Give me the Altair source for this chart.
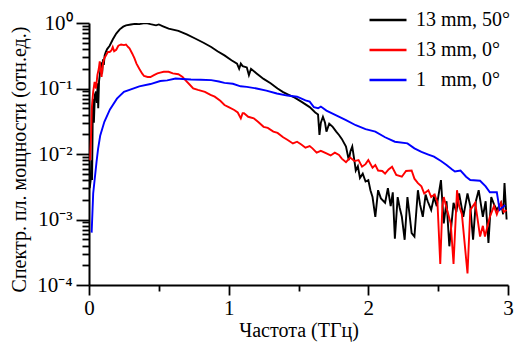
import altair as alt
import pandas as pd

# ---- data ----
black_f = [0.005, 0.012, 0.018, 0.022, 0.028, 0.035, 0.042, 0.05, 0.056, 0.062, 0.066, 0.072, 0.08, 0.088,
           0.094, 0.1, 0.106, 0.112, 0.12, 0.13, 0.148, 0.17, 0.195, 0.22, 0.245, 0.265, 0.3, 0.33, 0.36, 0.39,
           0.41, 0.44, 0.48, 0.5, 0.53, 0.57, 0.64, 0.7, 0.76, 0.82, 0.875, 0.92, 0.97, 1.02, 1.06, 1.075,
           1.087, 1.1, 1.13, 1.145, 1.16, 1.2, 1.25, 1.3, 1.35, 1.39, 1.43, 1.47, 1.52, 1.58, 1.62, 1.64,
           1.65, 1.66, 1.675, 1.69, 1.70, 1.72, 1.745, 1.77, 1.79, 1.81, 1.84, 1.86, 1.872, 1.885, 1.9, 1.91,
           1.925, 1.94, 1.96, 1.98, 2.0, 2.015, 2.03, 2.05, 2.07, 2.09, 2.12, 2.14, 2.16, 2.175, 2.19, 2.21,
           2.225, 2.24, 2.26, 2.28, 2.295, 2.31, 2.33, 2.355, 2.37, 2.39, 2.41, 2.425, 2.45, 2.47, 2.49, 2.52,
           2.54, 2.56, 2.58, 2.61, 2.63, 2.65, 2.68, 2.71, 2.73, 2.75, 2.77, 2.79, 2.82, 2.84, 2.86, 2.88,
           2.9, 2.92, 2.95, 2.965, 2.975, 2.99]
black_v = [0.003, 0.004, 0.008, 0.004, 0.07, 0.03, 0.08, 0.09, 0.06, 0.12, 0.05, 0.13, 0.18, 0.25,
           0.17, 0.28, 0.23, 0.32, 0.36, 0.4, 0.45, 0.56, 0.69, 0.8, 0.88, 0.92, 0.95, 0.97, 0.96, 0.99,
           1.0, 0.96, 0.92, 0.95, 0.89, 0.82, 0.76, 0.67, 0.58, 0.5, 0.43, 0.37, 0.32, 0.27, 0.24, 0.2,
           0.24, 0.22, 0.21, 0.16, 0.2, 0.17, 0.14, 0.12, 0.1, 0.088, 0.08, 0.073, 0.063, 0.052, 0.043, 0.04,
           0.0195, 0.03, 0.037, 0.03, 0.022, 0.029, 0.026, 0.022, 0.0195, 0.017, 0.013, 0.0081, 0.011, 0.013, 0.008, 0.0056,
           0.0065, 0.0043, 0.005, 0.0038, 0.004, 0.0028, 0.0022, 0.0011, 0.0028, 0.0021, 0.0018, 0.003, 0.0016, 0.0026, 0.00051, 0.0022,
           0.0015, 0.0011, 0.00049, 0.0022, 0.0012, 0.00062, 0.00055, 0.0028, 0.0017, 0.0011, 0.0024, 0.0019, 0.0014, 0.0022, 0.0016, 0.004,
           0.00087, 0.0019, 0.00039, 0.0018, 0.0013, 0.0025, 0.0011, 0.0025, 0.0016, 0.00049, 0.0019, 0.0028, 0.0011, 0.0019, 0.00044, 0.0022,
           0.0017, 0.0014, 0.0018, 0.0012, 0.0036, 0.001]

red_f = [0.008, 0.015, 0.02, 0.03, 0.04, 0.05, 0.06, 0.07, 0.077, 0.083, 0.09, 0.1, 0.11, 0.125, 0.135,
         0.148, 0.16, 0.17, 0.18, 0.195, 0.21, 0.23, 0.25, 0.265, 0.28, 0.29, 0.31, 0.325, 0.34, 0.36, 0.38,
         0.394, 0.42, 0.44, 0.465, 0.49, 0.51, 0.535, 0.57, 0.6, 0.64, 0.67, 0.69, 0.72, 0.746, 0.78, 0.83,
         0.87, 0.9, 0.94, 0.97, 1.0, 1.04, 1.065, 1.087, 1.1, 1.11, 1.14, 1.18, 1.21, 1.25, 1.28, 1.32, 1.35,
         1.39, 1.42, 1.46, 1.49, 1.52, 1.55, 1.58, 1.6, 1.63, 1.66, 1.70, 1.73, 1.76, 1.79, 1.81, 1.84, 1.87,
         1.9, 1.93, 1.955, 1.98, 2.0, 2.03, 2.05, 2.07, 2.1, 2.12, 2.145, 2.17, 2.2, 2.24, 2.27, 2.31, 2.33,
         2.355, 2.38, 2.4, 2.43, 2.45, 2.475, 2.495, 2.515, 2.53, 2.54, 2.56, 2.59, 2.61, 2.635, 2.65, 2.67,
         2.71, 2.73, 2.765, 2.78, 2.80, 2.82, 2.835, 2.87, 2.9, 2.92, 2.95, 2.97, 2.99]
red_v = [0.008, 0.02, 0.05, 0.09, 0.126, 0.1, 0.16, 0.2, 0.26, 0.2, 0.15, 0.24, 0.29, 0.33, 0.36,
         0.36, 0.38, 0.43, 0.37, 0.39, 0.45, 0.47, 0.46, 0.47, 0.43, 0.41, 0.34, 0.29, 0.24, 0.2, 0.17,
         0.155, 0.15, 0.15, 0.16, 0.17, 0.175, 0.18, 0.18, 0.17, 0.165, 0.15, 0.134, 0.115, 0.1, 0.095, 0.089,
         0.08, 0.075, 0.065, 0.056, 0.052, 0.047, 0.043, 0.035, 0.042, 0.042, 0.037, 0.035, 0.031, 0.026, 0.025, 0.022, 0.021,
         0.018, 0.0165, 0.0145, 0.0154, 0.014, 0.0125, 0.0132, 0.0122, 0.0105, 0.0112, 0.0102, 0.0095, 0.0105, 0.0097, 0.0085, 0.0075, 0.0088,
         0.0078, 0.0081, 0.0064, 0.007, 0.0081, 0.0062, 0.0068, 0.0056, 0.0055, 0.005, 0.0058, 0.0064, 0.0048, 0.0045, 0.0055, 0.0056, 0.0042,
         0.0036, 0.0032, 0.0025, 0.0028, 0.0022, 0.0024, 0.0018, 0.00021, 0.0016, 0.0022, 0.0015, 0.00087, 0.00021, 0.0028, 0.0016, 0.0012,
         0.00015, 0.0014, 0.0018, 0.0011, 0.00055, 0.0008, 0.00055, 0.0011, 0.0016, 0.0012, 0.0018, 0.0013, 0.0014]

blue_f = [0.019, 0.03, 0.054, 0.065, 0.08, 0.11, 0.15, 0.2, 0.25, 0.3, 0.36, 0.44, 0.51, 0.56, 0.62,
          0.67, 0.73, 0.8, 0.875, 0.93, 0.97, 1.03, 1.085, 1.13, 1.2, 1.27, 1.345, 1.42, 1.49, 1.55, 1.58,
          1.61, 1.64, 1.66, 1.7, 1.77, 1.84, 1.91, 1.98, 2.05, 2.12, 2.19, 2.28, 2.33, 2.38, 2.43, 2.47,
          2.52, 2.56, 2.6, 2.62, 2.66, 2.7, 2.73, 2.8, 2.84, 2.87, 2.92, 2.94, 2.98]
blue_v = [0.00063, 0.0025, 0.0076, 0.012, 0.019, 0.031, 0.048, 0.07, 0.089, 0.097, 0.108, 0.117, 0.13, 0.133, 0.142,
          0.14, 0.137, 0.136, 0.134, 0.128, 0.122, 0.118, 0.108, 0.106, 0.1, 0.093, 0.084, 0.078, 0.075, 0.066, 0.063,
          0.052, 0.05, 0.053, 0.046, 0.039, 0.033, 0.0275, 0.024, 0.022, 0.018, 0.0154, 0.0145, 0.0122, 0.0108, 0.0098, 0.0091,
          0.0078, 0.0068, 0.0058, 0.0054, 0.0056, 0.0045, 0.004, 0.0039, 0.0032, 0.0026, 0.0026, 0.0014, 0.00166]

series_names = ["13 mm, 50°", "13 mm, 0°", "1\u00a0\u00a0\u00a0mm, 0°"]
series_colors = ["#000000", "#ff0000", "#0000ff"]

x_ticks = [0, 0.5, 1, 1.5, 2, 2.5, 3]
y_ticks = [m * 10.0 ** e for e in range(-4, 0) for m in range(1, 10)] + [1.0]

FONT = "Liberation Serif, Times New Roman, Times, serif"

frames = []
for name, f, v in zip(series_names, [black_f, red_f, blue_f], [black_v, red_v, blue_v]):
    frames.append(pd.DataFrame({"f": f, "v": v, "s": name}))

dec = "round(log(datum.value)/LN10)"
is_dec = f"abs(log(datum.value)/LN10 - {dec}) < 0.001"
ylabel = (f"{is_dec} ? ('10' + ({dec} == 0 ? '⁰' : {dec} == -1 ? '⁻¹' : {dec} == -2 ? '⁻²' : "
          f"{dec} == -3 ? '⁻³' : '⁻⁴')) : ''")

x_enc = alt.X("f:Q", scale=alt.Scale(domain=[0, 3], nice=False, zero=False),
              axis=alt.Axis(title="Частота (ТГц)", values=x_ticks, grid=False,
                            labelExpr="datum.value % 1 === 0 ? format(datum.value, 'd') : ''",
                            tickSize={"condition": {"test": "datum.value % 1 === 0", "value": 10}, "value": 6},
                            labelPadding=2, titlePadding=2, labelOverlap=False,
                            labelFlush=False))
y_enc = alt.Y("v:Q", scale=alt.Scale(type="log", domain=[1e-4, 1], nice=False),
              axis=alt.Axis(title="Спектр. пл. мощности (отн.ед.)", values=y_ticks, grid=False,
                            labelExpr=ylabel,
                            tickSize={"condition": {"test": is_dec, "value": 13}, "value": 7},
                            labelPadding=4, labelOverlap=False, labelFlush=False,
                            titleX=-70, titleY=136, titleBaseline="middle", titleAngle=270))
color_enc = alt.Color("s:N", scale=alt.Scale(domain=series_names, range=series_colors),
                      legend=alt.Legend(title=None, orient="none", legendX=279, legendY=-23,
                                        symbolType="stroke", symbolSize=1369, symbolStrokeWidth=2.5,
                                        labelFontSize=20, labelFont=FONT, labelOffset=8,
                                        rowPadding=-2.5, labelLimit=300))

layers = [
    alt.Chart(df).mark_line(strokeWidth=1.9, clip=True).encode(x=x_enc, y=y_enc, color=color_enc)
    for df in frames
]

chart = alt.layer(*layers).properties(
    width=419, height=262,
    autosize=alt.AutoSizeParams(type="none"),
    padding={"left": 81, "top": 15, "right": 6, "bottom": 57},
).configure_view(stroke=None).configure_axis(
    labelFont=FONT, titleFont=FONT, labelFontSize=21, titleFontSize=20,
    titleFontWeight="normal", labelColor="black", titleColor="black",
    domainColor="black", tickColor="black", domainWidth=2, tickWidth=1.8,
).configure_legend(labelFont=FONT, labelColor="black")

chart.save("out.html", embed_options={"renderer": "svg", "actions": False})
